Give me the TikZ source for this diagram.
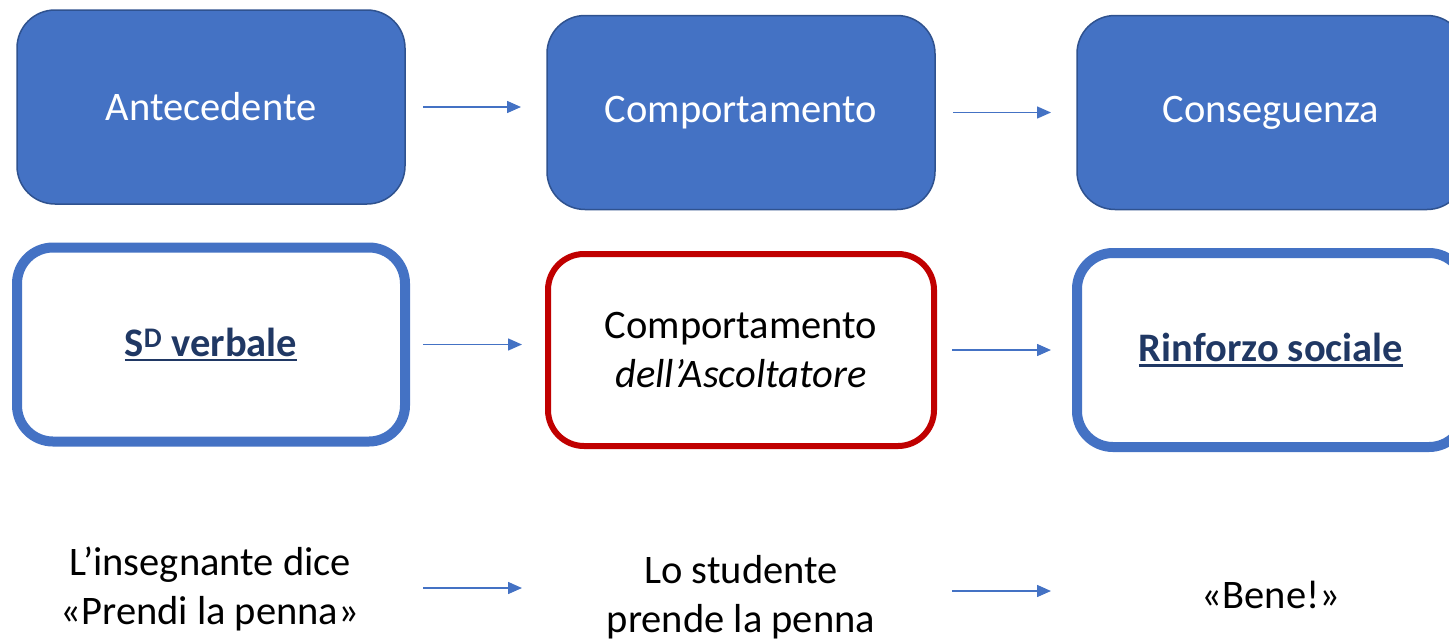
\documentclass[tikz,border=0pt]{standalone}
\usepackage{fontspec}
\setmainfont{Carlito}
\usetikzlibrary{arrows.meta}
\definecolor{accblue}{HTML}{4472C4}
\definecolor{accdark}{HTML}{2F528F}
\definecolor{navytext}{HTML}{203864}
\definecolor{darkred}{HTML}{C00000}
\newcommand\ulfix[1]{\setbox0\hbox{#1}\rlap{\rule[-5pt]{\wd0}{2.6pt}}\box0}
\begin{document}
\begin{tikzpicture}[x=1pt,y=-1pt,
  bigfont/.style={font=\fontsize{40.5}{49}\selectfont},
  topbox/.style={draw=accdark, line width=1.5pt, fill=accblue, rounded corners=38pt,
    minimum width=388pt, minimum height=194pt, text=white, bigfont, inner sep=0pt, outer sep=0pt},
  bluering/.style={draw=accblue, line width=10pt, fill=white, rounded corners=36pt,
    minimum width=388pt, minimum height=194pt, text=navytext, bigfont, inner sep=0pt, outer sep=0pt},
  redring/.style={draw=darkred, line width=6pt, fill=white, rounded corners=36pt,
    minimum width=386pt, minimum height=192pt, text=black, bigfont, inner sep=0pt, outer sep=0pt, align=center},
  plain/.style={bigfont, align=center, inner sep=0pt},
  arr/.style={draw=accblue, line width=1.5pt, -{Triangle[length=14pt,width=12pt]},
    shorten <=18pt, shorten >=26pt}
]
\useasboundingbox (0,0) rectangle (1449,638);
\clip (0,0) rectangle (1449,638);

% row 1
\node[topbox] (a1) at (211,107) {Antecedente};
\node[topbox] (a2) at (741,112.5) {Comportamento};
\node[topbox] (a3) at (1271,112.5) {Conseguenza};

% row 2
\node[bluering] (b1) at (211,344.5) {\bfseries\ulfix{S\textsuperscript{D} verbale}};
\node[redring] (b2) at (741,350) {Comportamento\\\itshape dell’Ascoltatore};
\node[bluering] (b3) at (1271,350) {\bfseries\ulfix{Rinforzo sociale}};

% row 3
\node[plain] (c1) at (210,589) {L’insegnante dice\\«Prendi la penna»};
\node[plain] (c2) at (741,597) {Lo studente\\prende la penna};
\node[plain] (c3) at (1271,595) {«Bene!»};

% arrows
\draw[arr] (a1.east) -- (a1.east -| a2.west);
\draw[arr] (a2.east) -- (a2.east -| a3.west);
\draw[arr] (b1.east) -- (b1.east -| b2.west);
\draw[arr] (b2.east) -- (b2.east -| b3.west);
\draw[arr] ([yshift=1pt]c1.center -| b1.east) -- ([yshift=1pt]c1.center -| b2.west);
\draw[arr] ([yshift=6pt]c2.center -| b2.east) -- ([yshift=6pt]c2.center -| b3.west);
\end{tikzpicture}
\end{document}
